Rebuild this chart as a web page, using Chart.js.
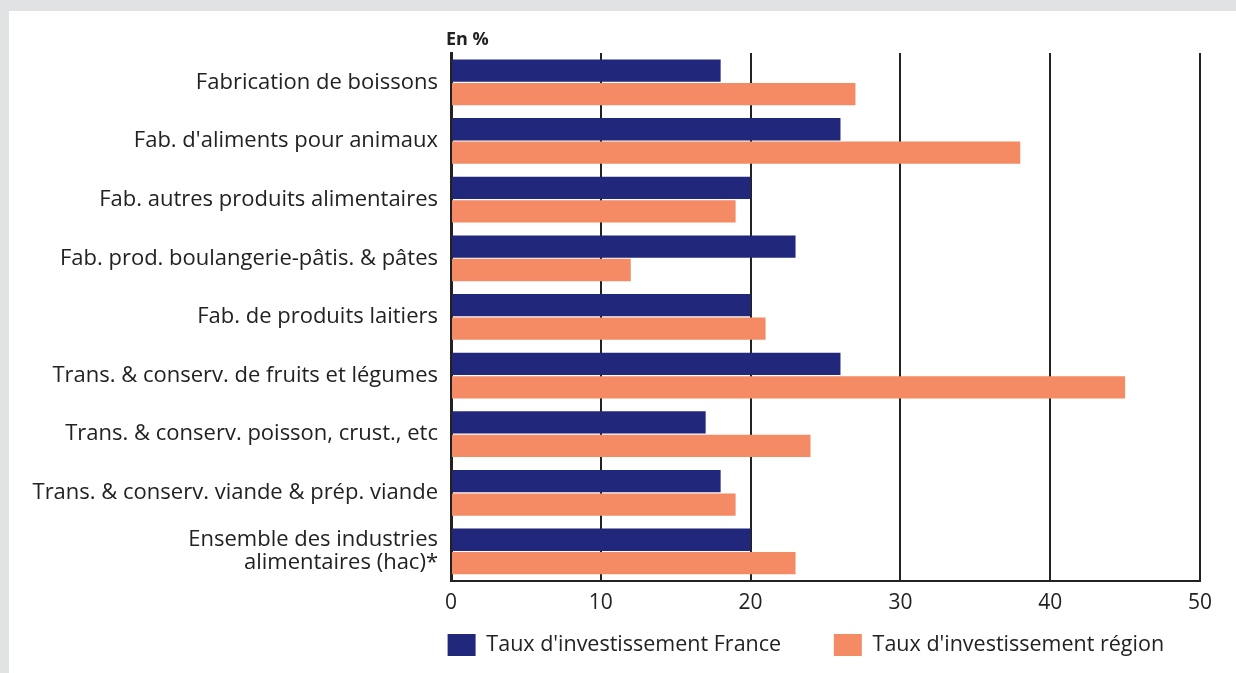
<!DOCTYPE html>
<html>
<head>
<meta charset="utf-8">
<script src="https://cdn.jsdelivr.net/npm/chart.js@4/dist/chart.umd.min.js"></script>
<style>
  html, body { margin: 0; padding: 0; background: #e1e2e4; }
  #panel { position: absolute; left: 9px; top: 11px; width: 1227px; height: 662px; background: #fff; }
  #panel canvas { display: block; }
</style>
</head>
<body>
<div id="panel"><canvas id="chart" width="1227" height="662"></canvas></div>
<script>
var categories = [
  "Fabrication de boissons",
  "Fab. d'aliments pour animaux",
  "Fab. autres produits alimentaires",
  "Fab. prod. boulangerie-pâtis. & pâtes",
  "Fab. de produits laitiers",
  "Trans. & conserv. de fruits et légumes",
  "Trans. & conserv. poisson, crust., etc",
  "Trans. & conserv. viande & prép. viande",
  ["Ensemble des industries", "alimentaires (hac)*"]
];
var tauxFrance = [18, 26, 20, 23, 20, 26, 17, 18, 20];
var tauxRegion = [27, 38, 19, 12, 21, 45, 24, 19, 23];
var xTicks = [0, 10, 20, 30, 40, 50];

var txtColor = "#222";
var fontFam = "'Open Sans', sans-serif";

// petit libellé "En %" au dessus de l'axe
var unitLabel = {
  id: 'unitLabel',
  afterDraw: function(chart){
    var ctx = chart.ctx;
    ctx.save();
    ctx.font = "bold 18px " + fontFam;
    ctx.fillStyle = txtColor;
    ctx.textAlign = "left";
    ctx.textBaseline = "middle";
    ctx.fillText("En %", chart.chartArea.left - 5, chart.chartArea.top - 13);
    ctx.restore();
  }
};

// espaces insécables pour écarter les deux entrées de légende
var legendPad = ["\u00a0\u00a0\u00a0\u00a0\u00a0\u00a0\u00a0\u00a0", "\u00a0\u00a0\u00a0\u00a0\u00a0"];

var ctx = document.getElementById('chart').getContext('2d');
var chart = new Chart(ctx, {
  type: 'bar',
  data: {
    labels: categories,
    datasets: [{
      label: "Taux d'investissement France",
      data: tauxFrance,
      backgroundColor: '#21277b',
      barPercentage: 0.95,
      categoryPercentage: 0.8
    }, {
      label: "Taux d'investissement région",
      data: tauxRegion,
      backgroundColor: '#f48b65',
      barPercentage: 0.95,
      categoryPercentage: 0.8
    }]
  },
  options: {
    indexAxis: 'y',
    responsive: false,
    animation: false,
    layout: { padding: { top: 42, right: 36, bottom: 7, left: 0 } },
    plugins: {
      tooltip: { enabled: false },
      legend: {
        position: 'bottom',
        align: 'end',
        labels: {
          boxWidth: 28,
          boxHeight: 22,
          padding: 8,
          color: txtColor,
          font: { family: fontFam, size: 21.5 },
          generateLabels: function(chart){
            var items = Chart.defaults.plugins.legend.labels.generateLabels(chart);
            items.forEach(function(it, i){ it.text = it.text + legendPad[i]; });
            return items;
          }
        }
      }
    },
    scales: {
      x: {
        min: 0,
        max: 50,
        afterBuildTicks: function(scale){
          scale.ticks = xTicks.map(function(v){ return { value: v }; });
        },
        grid: { color: '#222', lineWidth: 2, drawTicks: false },
        border: { display: true, color: '#222', width: 2 },
        ticks: { color: txtColor, padding: 10, font: { family: fontFam, size: 21 } }
      },
      y: {
        afterFit: function(scale){ scale.width = 442; },
        grid: { display: false, drawTicks: false },
        border: { display: true, color: '#222', width: 3 },
        ticks: { color: txtColor, padding: 13, font: { family: fontFam, size: 22, lineHeight: 1.05 } }
      }
    }
  },
  plugins: [unitLabel]
});
</script>
</body>
</html>
